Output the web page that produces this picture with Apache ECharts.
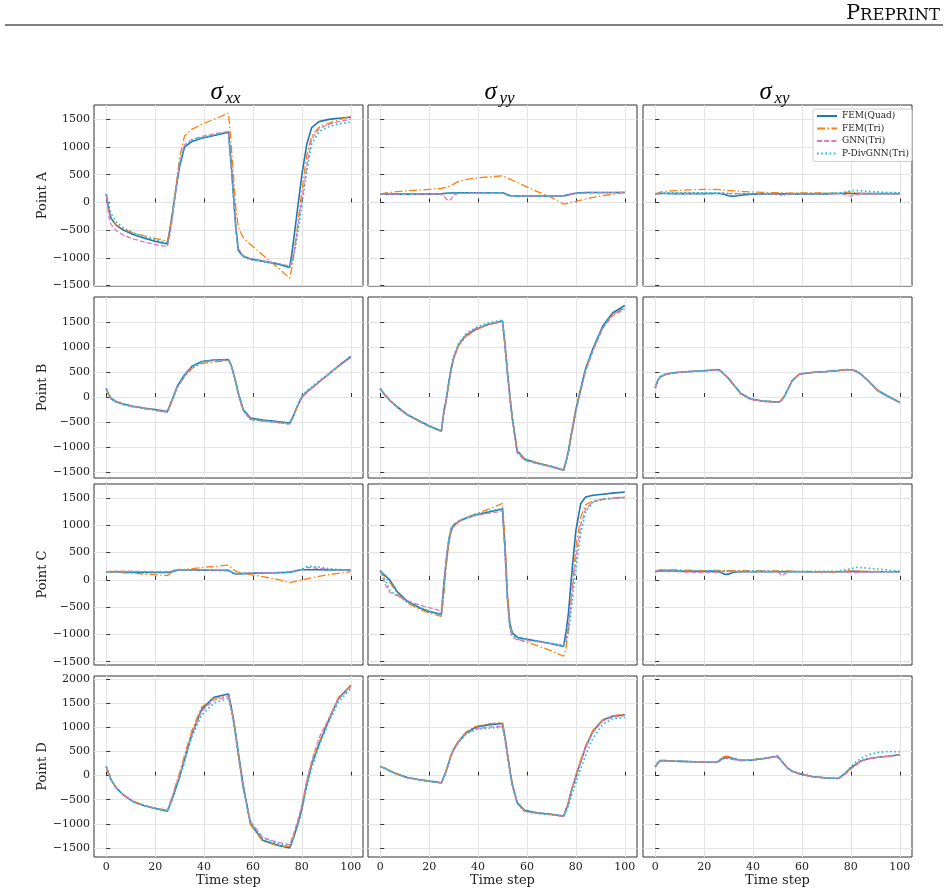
<!DOCTYPE html>
<html>
<head>
<meta charset="utf-8">
<script src="https://cdn.jsdelivr.net/npm/echarts@6/dist/echarts.min.js"></script>
<style>
  html, body { margin: 0; padding: 0; background: #fff; }
  #chart { width: 948px; height: 895px; }
</style>
</head>
<body>
<div id="chart"></div>
<script>
// time steps sampled from the curves
const T = [0,1,2,4,7,11,16,20,25,26, 27,28,29,30,32,35,39,44,50,51, 52,53,54,56,59,64,70,75,76,77, 78,79,80,82,84,87,91,95,100];

// ---- Point A ----
const A_xx_quad = [150,-120,-290,-410,-500,-580,-650,-700,-750,-500, -220,80,380,650,1000,1100,1160,1210,1270,750, 150,-450,-870,-970,-1020,-1060,-1110,-1175,-900,-550, -200,150,500,1050,1350,1460,1500,1520,1540];
const A_xx_tri  = [150,-150,-290,-400,-480,-550,-610,-650,-700,-500, -220,100,450,800,1200,1320,1410,1500,1610,1100, 500,-100,-450,-640,-760,-950,-1170,-1370,-1150,-850, -500,-150,200,850,1200,1360,1430,1490,1560];
const A_xx_gnn  = [150,-250,-400,-510,-590,-660,-720,-760,-800,-600, -300,50,400,700,1040,1140,1190,1240,1280,750, 150,-450,-830,-960,-1020,-1060,-1100,-1150,-1050,-850, -550,-250,50,650,1150,1330,1410,1460,1500];
const A_xx_pdiv = [150,-50,-200,-350,-460,-550,-620,-670,-730,-520, -230,100,400,700,1010,1120,1170,1210,1260,720, 120,-480,-850,-980,-1040,-1070,-1110,-1170,-1080,-900, -650,-350,-50,550,1050,1280,1370,1420,1450];

const A_yy_quad = [150,150,150,150,150,150,150,150,155,160, 165,170,170,170,175,175,175,175,175,160, 140,125,120,115,115,115,115,120,130,140, 150,160,165,175,180,180,180,180,180];
const A_yy_tri  = [150,160,170,180,195,210,225,235,255,265, 275,290,310,330,380,410,440,460,480,460, 440,420,400,360,300,200,90,-30,-20,-10, 0,10,20,40,60,90,120,150,180];
const A_yy_gnn  = [150,150,148,145,145,145,145,145,145,120, 60,30,60,140,160,165,170,170,170,150, 130,120,115,115,115,115,115,115,125,135, 145,155,160,165,170,175,175,178,180];
const A_yy_pdiv = [150,152,152,152,152,152,152,152,155,160, 165,168,170,170,172,172,172,172,172,155, 135,120,112,110,110,110,110,115,125,135, 145,155,162,170,175,178,178,178,178];

const A_xy_quad = [155,158,160,160,158,158,158,158,160,160, 158,150,135,120,110,130,150,155,155,155, 155,155,155,155,155,155,155,160,160,160, 160,160,160,158,158,158,158,158,158];
const A_xy_tri  = [155,170,185,200,210,220,230,235,235,232, 228,222,218,215,210,200,190,182,175,172, 170,168,168,170,172,172,170,168,170,175, 180,185,185,175,165,160,160,160,160];
const A_xy_gnn  = [150,155,160,165,165,165,165,165,165,165, 165,162,160,158,158,158,158,158,155,135, 120,135,150,155,158,158,158,158,155,150, 130,115,115,135,150,155,155,155,155];
const A_xy_pdiv = [155,165,172,175,175,175,175,175,175,172, 170,168,165,162,160,160,160,160,160,160, 158,158,160,160,160,160,165,170,175,180, 190,200,210,215,210,200,190,180,175];

// ---- Point B ----
const B_xx_quad = [170,50,-30,-90,-140,-185,-225,-250,-290,-170, -50,80,210,290,440,610,710,740,750,650, 480,300,80,-250,-420,-460,-490,-520,-430,-320, -200,-100,0,100,180,300,460,620,810];
const B_xx_tri  = [170,40,-40,-100,-150,-195,-235,-265,-310,-190, -70,60,180,260,400,570,670,700,730,640, 470,290,70,-260,-440,-480,-505,-530,-440,-330, -210,-110,-10,90,170,290,450,610,790];
const B_xx_gnn  = [170,40,-35,-95,-145,-190,-230,-260,-300,-180, -60,60,190,270,420,590,700,730,740,640, 470,290,60,-270,-450,-480,-510,-540,-450,-330, -200,-110,-20,90,170,300,460,620,790];
const B_xx_pdiv = [170,50,-40,-100,-150,-195,-235,-265,-300,-180, -50,70,200,280,430,600,700,735,745,640, 470,290,70,-270,-450,-480,-510,-540,-450,-330, -180,-80,20,130,200,320,470,630,800];

const B_yy_quad = [170,100,40,-70,-200,-350,-480,-580,-680,-300, -50,280,560,780,1040,1230,1350,1450,1520,1050, 500,20,-420,-1080,-1240,-1320,-1390,-1460,-1280,-1070, -780,-520,-250,170,570,970,1420,1680,1830];
const B_yy_tri  = [170,95,35,-75,-205,-355,-490,-590,-690,-320, -70,250,530,760,1020,1210,1340,1440,1510,1060, 520,40,-400,-1060,-1230,-1310,-1390,-1470,-1300,-1090, -800,-540,-270,140,540,940,1390,1650,1790];
const B_yy_gnn  = [170,95,30,-80,-210,-360,-490,-590,-690,-330, -80,250,540,780,1050,1240,1370,1460,1510,1000, 450,-30,-480,-1120,-1270,-1330,-1400,-1470,-1300,-1100, -820,-560,-290,120,510,920,1370,1620,1760];
const B_yy_pdiv = [170,100,40,-70,-200,-350,-480,-580,-680,-300, -40,290,580,800,1070,1260,1390,1480,1540,1080, 520,30,-420,-1080,-1250,-1320,-1390,-1460,-1290,-1080, -800,-540,-270,150,550,950,1400,1650,1780];

const B_xy_quad = [180,330,400,450,480,500,515,525,545,545, 510,460,420,370,250,70,-40,-80,-100,-90, -40,30,130,330,460,490,510,530,535,540, 545,545,545,520,460,330,130,20,-110];
const B_xy_tri  = [180,325,395,445,478,498,512,522,540,540, 505,455,410,360,240,60,-45,-85,-105,-95, -45,25,120,320,455,488,510,530,535,540, 545,545,545,525,465,335,135,20,-110];
const B_xy_gnn  = [180,330,400,450,480,500,515,525,545,545, 515,465,420,365,245,65,-45,-90,-110,-100, -50,20,120,320,455,488,508,528,535,540, 545,548,548,520,455,320,120,10,-115];
const B_xy_pdiv = [180,335,405,452,482,502,517,527,548,548, 512,462,422,372,252,72,-38,-78,-98,-88, -38,32,132,332,462,492,512,532,538,545, 548,550,550,525,462,330,128,15,-105];

// ---- Point C ----
const C_xx_quad = [150,150,150,148,145,140,138,135,135,140, 150,165,175,180,180,180,178,176,175,150, 120,110,110,115,120,125,130,140,150,160, 170,180,185,185,185,185,183,182,180];
const C_xx_tri  = [150,148,145,140,130,120,105,95,80,110, 150,170,175,180,190,205,225,245,270,230, 190,160,140,120,95,60,10,-50,-40,-30, -20,-10,0,20,40,65,95,120,150];
const C_xx_gnn  = [150,155,158,160,160,158,155,152,150,155, 165,180,190,190,185,180,178,176,175,155, 125,115,115,120,125,130,135,150,155,160, 170,180,190,230,225,210,195,185,180];
const C_xx_pdiv = [140,140,140,140,140,140,140,140,140,150, 160,175,180,182,180,178,176,174,170,150, 125,118,118,120,122,125,128,130,140,150, 165,185,200,240,250,235,205,190,180];

const C_yy_quad = [170,120,80,-10,-220,-390,-510,-580,-630,-80, 350,680,920,990,1070,1130,1190,1240,1300,610, -300,-800,-970,-1050,-1080,-1120,-1170,-1220,-950,-600, -50,450,900,1400,1520,1550,1570,1590,1610];
const C_yy_tri  = [170,100,50,-50,-250,-420,-540,-610,-670,-300, 250,650,880,970,1060,1140,1210,1290,1400,800, -200,-800,-1000,-1080,-1130,-1200,-1300,-1400,-1250,-900, -400,100,600,1150,1380,1450,1480,1500,1520];
const C_yy_gnn  = [170,50,-80,-230,-290,-380,-460,-510,-570,-100, 400,760,960,1020,1080,1140,1180,1220,1260,500, -400,-900,-1050,-1100,-1110,-1130,-1170,-1210,-1100,-800, -400,0,400,1000,1300,1430,1470,1490,1500];
const C_yy_pdiv = [170,80,0,-200,-290,-400,-500,-570,-640,-200, 350,740,940,1010,1070,1140,1200,1260,1310,550, -350,-880,-1020,-1060,-1090,-1120,-1160,-1200,-1150,-950, -600,-200,200,850,1250,1420,1480,1500,1510];

const C_xy_quad = [150,160,165,170,165,160,155,155,160,150, 130,110,100,105,140,150,150,150,150,150, 150,150,150,150,150,150,150,150,150,150, 150,152,155,155,152,150,150,150,150];
const C_xy_tri  = [160,175,185,190,185,180,175,170,175,172, 170,170,170,170,170,170,168,166,165,165, 165,165,165,160,155,150,140,150,155,158, 160,163,165,165,162,158,155,152,150];
const C_xy_gnn  = [150,165,170,170,160,145,140,140,140,145, 150,150,150,150,150,150,150,150,150,110, 75,110,140,150,150,150,150,150,148,145, 142,140,140,135,140,145,150,150,150];
const C_xy_pdiv = [150,165,175,180,175,165,160,165,170,168, 165,162,160,160,160,160,160,160,160,158, 155,155,155,155,155,155,155,160,170,180, 190,195,200,230,225,215,200,180,160];

// ---- Point D ----
const D_xx_quad = [190,40,-90,-250,-400,-540,-630,-680,-740,-610, -480,-330,-180,-20,330,850,1370,1620,1690,1450, 1180,850,480,-200,-1000,-1340,-1440,-1500,-1370,-1220, -1060,-880,-680,-170,230,650,1150,1600,1870];
const D_xx_tri  = [190,40,-90,-250,-400,-530,-620,-670,-720,-580, -430,-260,-90,60,420,930,1420,1600,1650,1420, 1160,820,450,-230,-1020,-1360,-1450,-1470,-1340,-1190, -1020,-840,-640,-140,260,690,1180,1620,1860];
const D_xx_gnn  = [190,40,-90,-250,-400,-535,-625,-675,-730,-600, -450,-290,-130,0,350,860,1330,1560,1640,1410, 1130,800,420,-260,-950,-1280,-1380,-1430,-1300,-1150, -980,-800,-600,-100,300,780,1180,1580,1830];
const D_xx_pdiv = [190,40,-90,-250,-400,-540,-630,-680,-740,-620, -480,-330,-180,-60,280,800,1250,1500,1600,1380, 1110,780,420,-260,-980,-1300,-1400,-1460,-1360,-1230, -1080,-910,-720,-250,150,620,1100,1530,1800];

const D_yy_quad = [190,170,150,95,30,-40,-85,-115,-150,-30, 100,260,420,540,700,880,1000,1050,1080,800, 450,120,-180,-560,-720,-770,-800,-840,-700,-560, -340,-180,-20,290,590,920,1150,1230,1260];
const D_yy_tri  = [190,170,150,95,30,-40,-85,-115,-150,-20, 110,270,430,560,720,900,1020,1070,1100,820, 470,130,-180,-570,-730,-780,-810,-840,-690,-540, -320,-150,20,330,620,940,1160,1240,1270];
const D_yy_gnn  = [190,165,145,90,25,-45,-90,-120,-155,-40, 90,250,410,530,690,860,970,1000,1020,760, 420,100,-200,-580,-740,-780,-810,-850,-710,-570, -350,-190,-30,280,580,900,1130,1210,1240];
const D_yy_pdiv = [190,170,150,95,30,-40,-85,-115,-150,-35, 90,250,410,530,680,850,960,980,1000,760, 420,110,-190,-570,-740,-780,-810,-840,-740,-620, -450,-300,-150,150,420,780,1060,1180,1200];

const D_xy_quad = [180,260,310,310,300,295,285,280,275,300, 340,370,385,380,350,315,320,350,400,340, 280,220,160,90,40,-20,-50,-60,-20,20, 60,110,160,230,300,350,380,400,430];
const D_xy_tri  = [180,260,310,310,300,295,285,280,275,310, 360,390,400,395,360,320,325,355,400,340, 280,220,160,90,40,-20,-50,-60,-20,20, 60,110,160,230,300,350,380,400,430];
const D_xy_gnn  = [180,255,305,305,298,292,283,278,273,290, 320,345,355,350,330,310,318,345,395,335, 275,215,155,85,35,-20,-50,-60,-30,5, 40,85,135,210,290,345,375,400,425];
const D_xy_pdiv = [180,260,310,310,300,295,285,280,275,295, 330,355,365,360,340,315,322,355,410,345, 285,225,160,90,40,-20,-50,-60,-15,30, 75,130,180,280,350,430,480,500,490];

const SERIES_NAMES = ['FEM(Quad)', 'FEM(Tri)', 'GNN(Tri)', 'P-DivGNN(Tri)'];
const ROW_NAMES = ['Point A', 'Point B', 'Point C', 'Point D'];
const COL_SUBS = ['xx', 'yy', 'xy'];
const X_TICKS = [0, 20, 40, 60, 80, 100];
const Y_TICKS = [
  [-1500, -1000, -500, 0, 500, 1000, 1500],
  [-1500, -1000, -500, 0, 500, 1000, 1500],
  [-1500, -1000, -500, 0, 500, 1000, 1500],
  [-1500, -1000, -500, 0, 500, 1000, 1500, 2000]
];
const Y_RANGES = [[-1510, 1760], [-1620, 2000], [-1560, 1757], [-1686, 2062]];

const PANELS = [
  [[A_xx_quad, A_xx_tri, A_xx_gnn, A_xx_pdiv], [A_yy_quad, A_yy_tri, A_yy_gnn, A_yy_pdiv], [A_xy_quad, A_xy_tri, A_xy_gnn, A_xy_pdiv]],
  [[B_xx_quad, B_xx_tri, B_xx_gnn, B_xx_pdiv], [B_yy_quad, B_yy_tri, B_yy_gnn, B_yy_pdiv], [B_xy_quad, B_xy_tri, B_xy_gnn, B_xy_pdiv]],
  [[C_xx_quad, C_xx_tri, C_xx_gnn, C_xx_pdiv], [C_yy_quad, C_yy_tri, C_yy_gnn, C_yy_pdiv], [C_xy_quad, C_xy_tri, C_xy_gnn, C_xy_pdiv]],
  [[D_xx_quad, D_xx_tri, D_xx_gnn, D_xx_pdiv], [D_yy_quad, D_yy_tri, D_yy_gnn, D_yy_pdiv], [D_xy_quad, D_xy_tri, D_xy_gnn, D_xy_pdiv]]
];

const FONT = 'DejaVu Serif';
const COL_LEFT = [94, 368, 643];
const ROW_TOP = [105, 297, 484, 676];
const PLOT_W = 269;
const PLOT_H = 181;

const LINE_STYLES = [
  { color: '#1f77b4', width: 1.6, type: 'solid' },
  { color: '#ff7f0e', width: 1.3, type: [8, 2.5, 1.5, 2.5] },
  { color: '#e377c2', width: 1.3, type: [5, 2.2] },
  { color: '#17becf', width: 1.6, type: [1.6, 2.6] }
];

const minus = v => String(v).replace('-', '\u2212');

const grids = [], xAxes = [], yAxes = [], series = [];

for (let r = 0; r < 4; r++) {
  for (let c = 0; c < 3; c++) {
    const idx = r * 3 + c;
    grids.push({
      left: COL_LEFT[c], top: ROW_TOP[r], width: PLOT_W, height: PLOT_H,
      show: true, borderColor: '#333', borderWidth: 1, backgroundColor: 'transparent'
    });
    xAxes.push({
      gridIndex: idx, type: 'value', min: -5, max: 105,
      axisLine: { show: false },
      axisTick: { show: true, inside: true, length: 4, customValues: X_TICKS, lineStyle: { color: '#333' } },
      axisLabel: { show: r === 3, customValues: X_TICKS, margin: 5, fontSize: 11, fontFamily: FONT, color: '#222' },
      splitLine: { show: true, lineStyle: { color: '#e4e4e4', width: 1 } },
      name: r === 3 ? 'Time step' : '',
      nameLocation: 'middle', nameGap: 17,
      nameTextStyle: { fontSize: 13, fontFamily: FONT, color: '#222' }
    });
    yAxes.push({
      gridIndex: idx, type: 'value', min: Y_RANGES[r][0], max: Y_RANGES[r][1],
      axisLine: { show: false },
      axisTick: { show: true, inside: true, length: 4, customValues: Y_TICKS[r], lineStyle: { color: '#333' } },
      axisLabel: { show: c === 0, customValues: Y_TICKS[r], margin: 4, fontSize: 11, fontFamily: FONT, color: '#222', formatter: minus },
      splitLine: { show: true, lineStyle: { color: '#e4e4e4', width: 1 } },
      name: c === 0 ? ROW_NAMES[r] : '',
      nameLocation: 'middle', nameGap: 44,
      nameTextStyle: { fontSize: 13, fontFamily: FONT, color: '#222' }
    });
    PANELS[r][c].forEach((vals, k) => {
      series.push({
        type: 'line', name: SERIES_NAMES[k],
        xAxisIndex: idx, yAxisIndex: idx,
        data: T.map((t, i) => [t, vals[i]]),
        showSymbol: false, symbol: 'none',
        lineStyle: LINE_STYLES[k],
        itemStyle: { color: LINE_STYLES[k].color },
        z: 2 + k
      });
    });
  }
}

const graphics = [
  { type: 'line', shape: { x1: 5, y1: 25, x2: 943, y2: 25 }, style: { stroke: '#000', lineWidth: 1 } },
  {
    type: 'text', right: 8, top: 3,
    style: {
      text: '{a|P}{b|REPRINT}',
      rich: {
        a: { fontSize: 21, fontFamily: FONT, fill: '#111', verticalAlign: 'bottom' },
        b: { fontSize: 16.5, fontFamily: FONT, fill: '#111', verticalAlign: 'bottom' }
      }
    }
  }
];
COL_SUBS.forEach((sub, c) => {
  const cx = COL_LEFT[c] + PLOT_W / 2;
  graphics.push({
    type: 'text', x: cx - 18, y: 92,
    style: { text: '\u03c3', fontSize: 25, fontStyle: 'italic', fontFamily: 'Liberation Serif', fill: '#000', verticalAlign: 'middle', align: 'left' }
  });
  graphics.push({
    type: 'text', x: cx - 3, y: 99,
    style: { text: sub, fontSize: 17, fontStyle: 'italic', fontFamily: 'Liberation Serif', fill: '#000', verticalAlign: 'middle', align: 'left' }
  });
});

const chart = echarts.init(document.getElementById('chart'), null, { renderer: 'canvas' });
chart.setOption({
  animation: false,
  backgroundColor: '#fff',
  grid: grids,
  xAxis: xAxes,
  yAxis: yAxes,
  series: series,
  legend: {
    data: SERIES_NAMES,
    orient: 'vertical',
    left: 813, top: 109,
    itemWidth: 20, itemHeight: 10, itemGap: 2.5,
    padding: [2, 3, 3, 3],
    backgroundColor: '#fff',
    borderColor: '#cfcfcf', borderWidth: 1, borderRadius: 2,
    itemStyle: { opacity: 0 },
    textStyle: { fontSize: 9, fontFamily: FONT, color: '#222', lineHeight: 10 }
  },
  graphic: graphics
});
</script>
</body>
</html>
